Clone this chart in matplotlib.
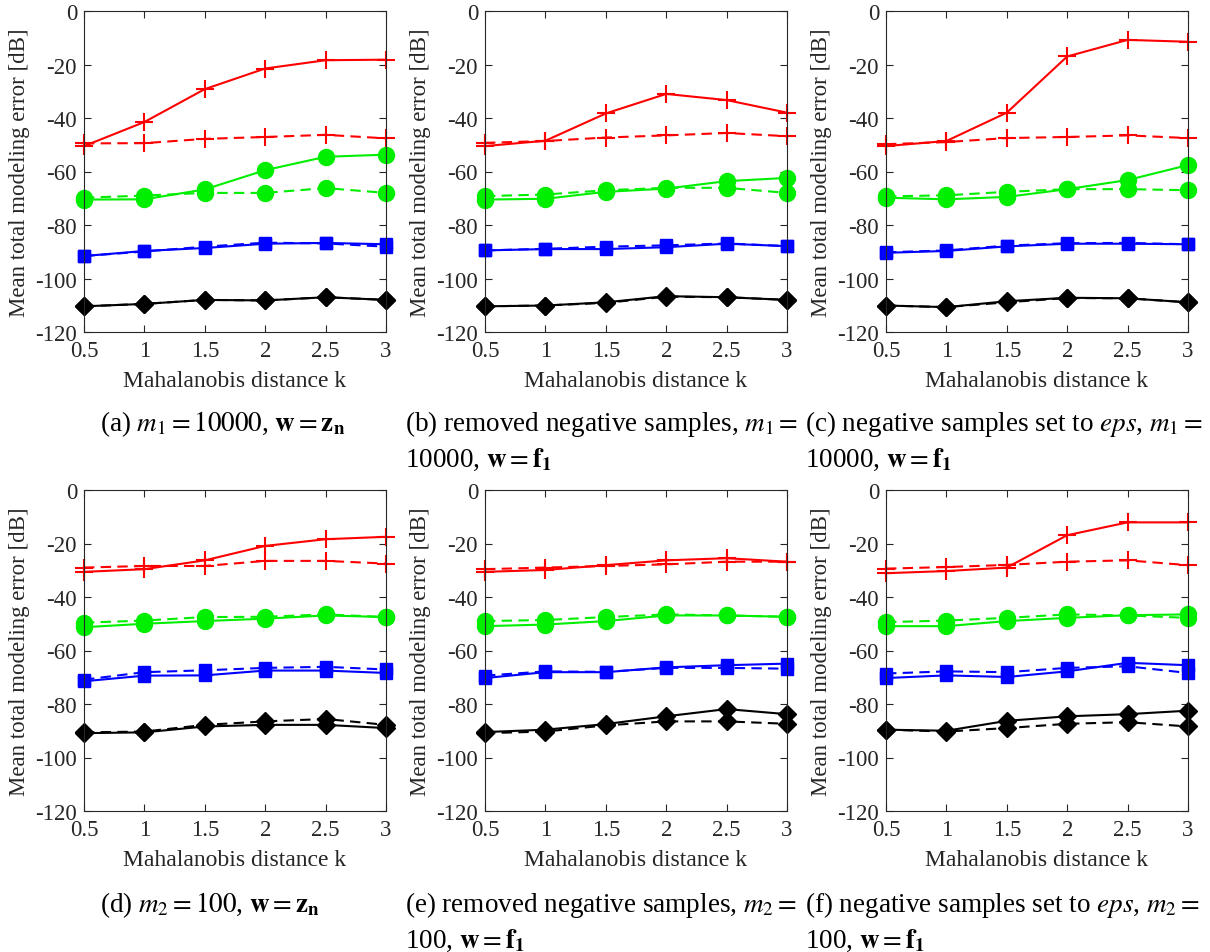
import matplotlib
matplotlib.use('Agg')
import matplotlib.pyplot as plt

plt.rcParams['font.family'] = ['Liberation Serif', 'DejaVu Serif']
plt.rcParams['mathtext.fontset'] = 'stix'
plt.rcParams['axes.unicode_minus'] = False

# Mahalanobis distance k
k = [0.5, 1, 1.5, 2, 2.5, 3]

# one row per panel (a)..(f)
red_solid = [
    [-50.5, -41.5, -29.2, -21.5, -18.4, -18.2],
    [-50.5, -48.5, -38.3, -31.0, -33.3, -38.0],
    [-50.5, -48.6, -38.0, -17.0, -10.8, -11.5],
    [-30.6, -29.6, -26.3, -20.9, -18.4, -17.5],
    [-30.6, -29.9, -28.1, -26.3, -25.5, -26.8],
    [-31.1, -30.3, -29.0, -16.9, -12.1, -12.1],
]
red_dashed = [
    [-49.5, -49.4, -47.8, -47.1, -46.3, -47.6],
    [-49.3, -48.6, -47.3, -46.5, -45.6, -46.8],
    [-49.8, -49.0, -47.5, -47.1, -46.5, -47.5],
    [-29.0, -28.4, -28.4, -26.5, -26.5, -27.5],
    [-29.6, -29.0, -28.4, -27.8, -26.8, -26.8],
    [-29.4, -28.8, -28.0, -26.8, -26.3, -28.1],
]
green_solid = [
    [-70.5, -70.4, -66.7, -59.5, -54.5, -53.7],
    [-70.5, -70.2, -67.6, -66.4, -63.6, -62.4],
    [-69.8, -70.4, -69.5, -66.6, -63.2, -57.6],
    [-51.3, -50.0, -49.0, -48.1, -46.9, -47.5],
    [-50.9, -50.3, -49.0, -46.9, -46.9, -47.4],
    [-50.9, -50.9, -49.0, -47.8, -46.8, -46.5],
]
green_dashed = [
    [-69.8, -69.0, -68.0, -68.0, -66.2, -68.0],
    [-69.2, -68.6, -67.0, -66.1, -66.1, -68.0],
    [-69.3, -68.9, -67.6, -66.6, -66.6, -67.0],
    [-49.6, -48.8, -47.5, -47.4, -46.5, -47.5],
    [-49.0, -48.6, -47.5, -46.5, -46.9, -47.4],
    [-49.4, -48.8, -47.8, -46.5, -46.9, -47.8],
]
blue_solid = [
    [-91.6, -89.7, -88.6, -87.0, -86.7, -87.2],
    [-89.5, -89.0, -89.0, -88.3, -87.0, -87.9],
    [-90.4, -89.7, -88.0, -87.0, -87.0, -87.2],
    [-71.5, -69.4, -69.3, -67.5, -67.5, -68.4],
    [-70.3, -68.1, -68.1, -66.3, -65.5, -64.9],
    [-70.3, -69.3, -69.9, -67.8, -64.6, -65.5],
]
blue_dashed = [
    [-91.6, -89.9, -88.1, -86.6, -86.9, -88.1],
    [-89.5, -88.9, -88.1, -87.6, -86.9, -87.9],
    [-90.2, -89.5, -87.7, -86.8, -86.7, -87.2],
    [-70.9, -68.1, -67.4, -66.5, -66.1, -67.1],
    [-69.4, -67.8, -68.0, -66.5, -66.5, -66.8],
    [-68.6, -67.8, -68.1, -66.5, -65.9, -68.4],
]
black_solid = [
    [-110.4, -109.5, -108.0, -108.2, -107.0, -108.0],
    [-110.4, -110.1, -108.9, -106.6, -107.0, -108.0],
    [-110.1, -110.7, -108.5, -107.2, -107.4, -108.9],
    [-90.9, -90.6, -88.4, -87.8, -87.8, -89.0],
    [-90.5, -89.6, -87.5, -84.6, -81.9, -83.8],
    [-89.6, -90.0, -86.3, -84.6, -83.8, -82.5],
]
black_dashed = [
    [-110.4, -109.5, -108.0, -108.2, -107.0, -108.0],
    [-110.4, -110.1, -109.1, -106.8, -107.0, -108.0],
    [-110.1, -110.7, -108.9, -107.3, -107.4, -108.9],
    [-90.6, -90.3, -87.8, -86.5, -85.6, -87.8],
    [-90.9, -90.3, -88.0, -86.5, -86.5, -87.4],
    [-89.6, -90.3, -89.0, -87.4, -86.8, -88.4],
]

captions = [
    [r'(a) $m_1 = 10000$, $\mathbf{w} = \mathbf{z_n}$', ''],
    [r'(b) removed negative samples, $m_1 =$', r'10000, $\mathbf{w} = \mathbf{f_1}$'],
    [r'(c) negative samples set to $eps$, $m_1 =$', r'10000, $\mathbf{w} = \mathbf{f_1}$'],
    [r'(d) $m_2 = 100$, $\mathbf{w} = \mathbf{z_n}$', ''],
    [r'(e) removed negative samples, $m_2 =$', r'100, $\mathbf{w} = \mathbf{f_1}$'],
    [r'(f) negative samples set to $eps$, $m_2 =$', r'100, $\mathbf{w} = \mathbf{f_1}$'],
]

W, H = 1210, 953
fig = plt.figure(figsize=(W / 100, H / 100), dpi=100)

lefts = [84, 485, 886]
tops = [12, 491]
ax_w, ax_h = 302, 321
cap_x = [100, 405, 805]
cap_y = [[424, 460], [905, 941]]

series = [
    (red_solid, 'r', '-', '+', 13, 1.5),
    (red_dashed, 'r', '--', '+', 13, 1.5),
    (green_solid, '#00ee00', '-', 'o', 11.5, 1.5),
    (green_dashed, '#00ee00', '--', 'o', 11.5, 1.5),
    (blue_solid, 'b', '-', 's', 9, 1.5),
    (blue_dashed, 'b', '--', 's', 9, 1.5),
    (black_solid, 'k', '-', 'D', 9, 1.5),
    (black_dashed, 'k', '--', 'D', 9, 1.5),
]

axcol = '#262626'
for i in range(6):
    row, col = divmod(i, 3)
    ax = fig.add_axes([lefts[col] / W, 1 - (tops[row] + ax_h) / H, ax_w / W, ax_h / H])
    for data, c, ls, mk, ms, lw in series:
        ax.plot(k, data[i], color=c, linestyle=ls, marker=mk, markersize=ms,
                linewidth=lw, markeredgewidth=1.5 if mk == '+' else 1.0,
                dashes=(5, 3) if ls == '--' else (None, None), clip_on=False)
    ax.set_xlim(0.5, 3)
    ax.set_ylim(-120, 0)
    ax.set_xticks(k)
    ax.set_xticklabels(['0.5', '1', '1.5', '2', '2.5', '3'])
    ax.set_yticks([0, -20, -40, -60, -80, -100, -120])
    ax.tick_params(direction='in', top=True, right=True, labelsize=16.5,
                   colors=axcol, length=5, width=0.8)
    ax.tick_params(axis='x', pad=6)
    ax.tick_params(axis='y', pad=5)
    for sp in ax.spines.values():
        sp.set_color(axcol)
        sp.set_linewidth(0.8)
    ax.set_xlabel('Mahalanobis distance k', fontsize=17, color=axcol, labelpad=6)
    ax.set_ylabel('Mean total modeling error [dB]', fontsize=16.5, color=axcol, labelpad=4)
    for j, txt in enumerate(captions[i]):
        if txt:
            fig.text(cap_x[col] / W, 1 - cap_y[row][j] / H, txt, fontsize=19.5,
                     ha='left', va='center')

fig.savefig('out.png', dpi=100)
